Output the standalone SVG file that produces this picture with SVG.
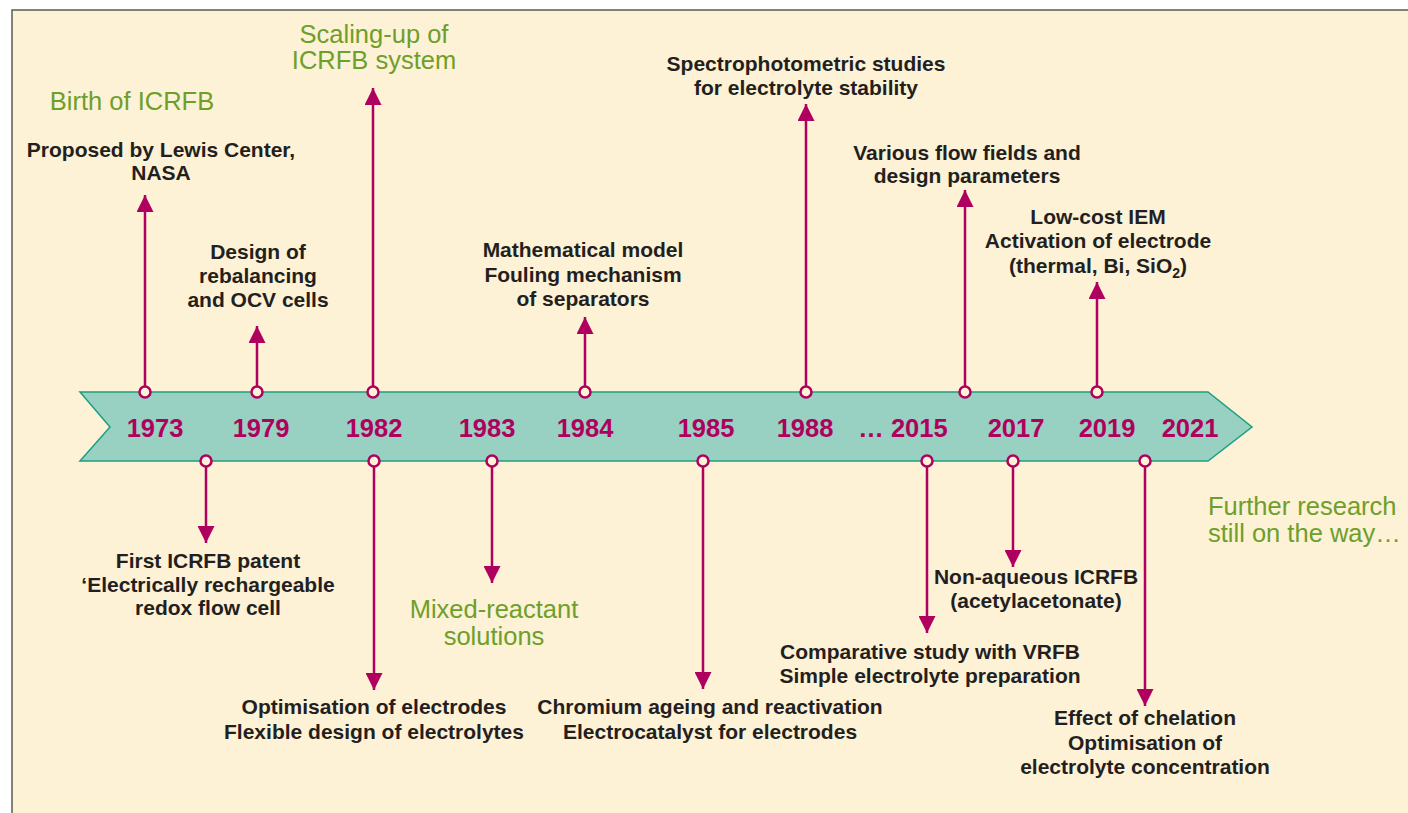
<svg xmlns="http://www.w3.org/2000/svg" width="1408" height="813" viewBox="0 0 1408 813">
<defs>
<marker id="ah" markerUnits="userSpaceOnUse" markerWidth="17" markerHeight="17" refX="17" refY="8.5" orient="auto">
<path d="M0,0 L17,8.5 L0,17 z" fill="#B0005F"/>
</marker>
<style>
.t{font-family:"Liberation Sans",Arial,sans-serif;font-weight:bold;font-size:21px;fill:#231F20;text-anchor:middle}
.g{font-family:"Liberation Sans",Arial,sans-serif;font-size:25.5px;fill:#6E9F2A;text-anchor:middle}
.y{font-family:"Liberation Sans",Arial,sans-serif;font-weight:bold;font-size:25.5px;fill:#B0005F;text-anchor:middle}
.c line{stroke:#B0005F;stroke-width:2.5;marker-end:url(#ah)}
.c circle{fill:#FDF1D6;stroke:#B0005F;stroke-width:2.5}
</style>
</defs>
<rect x="0" y="0" width="1408" height="813" fill="#FFFFFF"/>
<rect x="12" y="10" width="1400" height="810" fill="#FDF1D6" stroke="#5A5A5A" stroke-width="1.5"/>
<g id="band">
<polygon points="80,392 1208,392 1252,427 1208,461 80,461 110,427" fill="#98D0C2" stroke="#1AA083" stroke-width="1.5"/>
<text class="y" x="155" y="437">1973</text>
<text class="y" x="261" y="437">1979</text>
<text class="y" x="374" y="437">1982</text>
<text class="y" x="487" y="437">1983</text>
<text class="y" x="585" y="437">1984</text>
<text class="y" x="706" y="437">1985</text>
<text class="y" x="805" y="437">1988</text>
<text class="y" x="903" y="437">… 2015</text>
<text class="y" x="1016" y="437">2017</text>
<text class="y" x="1107" y="437">2019</text>
<text class="y" x="1190" y="437">2021</text>
</g>
<g id="connectors" class="c">
<line x1="145" y1="386" x2="145" y2="195"/>
<line x1="257" y1="386" x2="257" y2="326"/>
<line x1="373" y1="386" x2="373" y2="88"/>
<line x1="585" y1="386" x2="585" y2="317"/>
<line x1="806" y1="386" x2="806" y2="104"/>
<line x1="965" y1="386" x2="965" y2="190"/>
<line x1="1097" y1="386" x2="1097" y2="282"/>
<line x1="206" y1="467" x2="206" y2="543"/>
<line x1="374" y1="467" x2="374" y2="690"/>
<line x1="492" y1="467" x2="492" y2="583"/>
<line x1="703" y1="467" x2="703" y2="689"/>
<line x1="927" y1="467" x2="927" y2="633"/>
<line x1="1013" y1="467" x2="1013" y2="567"/>
<line x1="1145" y1="467" x2="1145" y2="706"/>
<circle cx="145" cy="392" r="5.5"/>
<circle cx="257" cy="392" r="5.5"/>
<circle cx="373" cy="392" r="5.5"/>
<circle cx="585" cy="392" r="5.5"/>
<circle cx="806" cy="392" r="5.5"/>
<circle cx="965" cy="392" r="5.5"/>
<circle cx="1097" cy="392" r="5.5"/>
<circle cx="206" cy="461" r="5.5"/>
<circle cx="374" cy="461" r="5.5"/>
<circle cx="492" cy="461" r="5.5"/>
<circle cx="703" cy="461" r="5.5"/>
<circle cx="927" cy="461" r="5.5"/>
<circle cx="1013" cy="461" r="5.5"/>
<circle cx="1145" cy="461" r="5.5"/>
</g>
<g id="birth"><text class="g" x="132" y="110">Birth of ICRFB</text></g>
<g id="scaling"><text class="g" x="374" y="43">Scaling-up of</text><text class="g" x="374" y="69">ICRFB system</text></g>
<g id="n1973"><text class="t" x="161" y="157">Proposed by Lewis Center,</text><text class="t" x="161" y="180">NASA</text></g>
<g id="n1979"><text class="t" x="258" y="259">Design of</text><text class="t" x="258" y="283">rebalancing</text><text class="t" x="258" y="307">and OCV cells</text></g>
<g id="n1984"><text class="t" x="583" y="257">Mathematical model</text><text class="t" x="583" y="282">Fouling mechanism</text><text class="t" x="583" y="306">of separators</text></g>
<g id="n1988"><text class="t" x="806" y="71">Spectrophotometric studies</text><text class="t" x="806" y="95">for electrolyte stability</text></g>
<g id="n2015a"><text class="t" x="967" y="160">Various flow fields and</text><text class="t" x="967" y="183">design parameters</text></g>
<g id="n2019a"><text class="t" x="1098" y="224">Low-cost IEM</text><text class="t" x="1098" y="248">Activation of electrode</text><text class="t" x="1098" y="273">(thermal, Bi, SiO<tspan font-size="14" dy="5">2</tspan><tspan dy="-5">)</tspan></text></g>
<g id="n1973b"><text class="t" x="208" y="568">First ICRFB patent</text><text class="t" x="208" y="592">‘Electrically rechargeable</text><text class="t" x="208" y="615">redox flow cell</text></g>
<g id="n1983"><text class="g" x="494" y="618">Mixed-reactant</text><text class="g" x="494" y="645">solutions</text></g>
<g id="n1982b"><text class="t" x="374" y="714">Optimisation of electrodes</text><text class="t" x="374" y="739">Flexible design of electrolytes</text></g>
<g id="n1985"><text class="t" x="710" y="714">Chromium ageing and reactivation</text><text class="t" x="710" y="739">Electrocatalyst for electrodes</text></g>
<g id="n2017"><text class="t" x="1036" y="584">Non-aqueous ICRFB</text><text class="t" x="1036" y="608">(acetylacetonate)</text></g>
<g id="n2015b"><text class="t" x="930" y="659">Comparative study with VRFB</text><text class="t" x="930" y="683">Simple electrolyte preparation</text></g>
<g id="n2019b"><text class="t" x="1145" y="725">Effect of chelation</text><text class="t" x="1145" y="750">Optimisation of</text><text class="t" x="1145" y="774">electrolyte concentration</text></g>
<g id="further"><text class="g" x="1208" y="515" style="text-anchor:start">Further research</text><text class="g" x="1208" y="542" style="text-anchor:start">still on the way…</text></g>
</svg>
